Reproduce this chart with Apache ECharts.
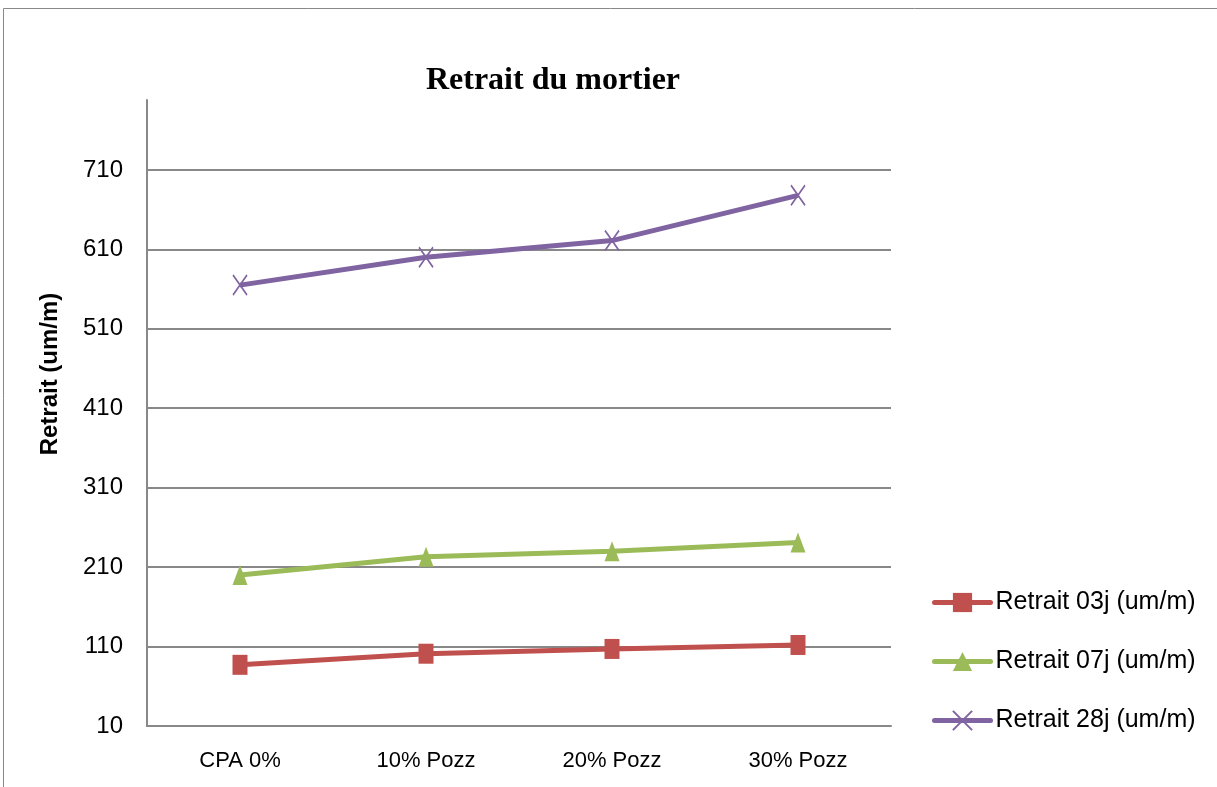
<!DOCTYPE html>
<html><head><meta charset="utf-8">
<script src="https://cdn.jsdelivr.net/npm/echarts@6/dist/echarts.min.js"></script>
<style>html,body{margin:0;padding:0;background:#fff}#c{width:1217px;height:787px}</style>
</head><body><div id="c"></div>
<script>
const categories = ['CPA 0%', '10% Pozz', '20% Pozz', '30% Pozz'];
const retrait03 = [87, 101, 107, 112];
const retrait07 = [200, 223, 230, 241];
const retrait28 = [565, 600, 621, 678];
const yTicks = [10, 110, 210, 310, 410, 510, 610, 710];
const seriesNames = ['Retrait 03j (um/m)', 'Retrait 07j (um/m)', 'Retrait 28j (um/m)'];
const yAxisTitle = 'Retrait (um/m)';
const chartTitle = 'Retrait du mortier';

const chart = echarts.init(document.getElementById('c'), null, {renderer: 'canvas'});
const FONT = 'Liberation Sans';
chart.setOption({
  animation: false,
  backgroundColor: '#fff',
  graphic: [
    {type: 'rect', shape: {x: 3.5, y: 8.5, width: 1240, height: 800}, style: {fill: 'none', stroke: '#888', lineWidth: 1}, silent: true},
    {type: 'text', x: 50, y: 374, rotation: Math.PI / 2,
     style: {text: yAxisTitle, fontFamily: FONT, fontWeight: 'bold', fontSize: 24, fill: '#000', align: 'center', verticalAlign: 'middle'}}
  ],
  title: {text: chartTitle, left: 548, top: 60, textAlign: 'center',
    textStyle: {fontFamily: 'Liberation Serif', fontWeight: 'bold', fontSize: 32, color: '#000'}},
  grid: {left: 147, right: 326, top: 100, bottom: 61},
  legend: {orient: 'vertical', left: 932, top: 590, padding: 0, itemGap: 34, itemWidth: 56, itemHeight: 24,
    lineStyle: {width: 5, cap: 'round'},
    textStyle: {fontFamily: FONT, fontSize: 25, color: '#000'},
    data: seriesNames},
  xAxis: {type: 'category', data: categories, boundaryGap: true,
    axisLine: {lineStyle: {color: '#888', width: 2}}, axisTick: {show: false},
    axisLabel: {margin: 24, fontFamily: FONT, fontSize: 22, color: '#000'}},
  yAxis: {type: 'value', min: 10, max: 798,
    axisLine: {show: true, lineStyle: {color: '#888', width: 2}},
    axisTick: {show: false, customValues: yTicks},
    axisLabel: {margin: 24, customValues: yTicks, fontFamily: FONT, fontSize: 24, color: '#000'},
    splitLine: {show: true, lineStyle: {color: '#888', width: 2}}},
  series: [
    {name: seriesNames[0], type: 'line', data: retrait03, symbol: 'rect', symbolSize: [15, 20],
     lineStyle: {color: '#C0504D', width: 5}, itemStyle: {color: '#C0504D'}},
    {name: seriesNames[1], type: 'line', data: retrait07, symbol: 'triangle', symbolSize: [15, 20],
     lineStyle: {color: '#9BBB59', width: 5}, itemStyle: {color: '#9BBB59'}},
    {name: seriesNames[2], type: 'line', data: retrait28, symbol: 'path://M0,0L10,14M10,0L0,14', symbolSize: [14, 20],
     lineStyle: {color: '#8064A2', width: 5}, itemStyle: {color: 'none', borderColor: '#8064A2', borderWidth: 1.8}}
  ]
});
</script></body></html>
